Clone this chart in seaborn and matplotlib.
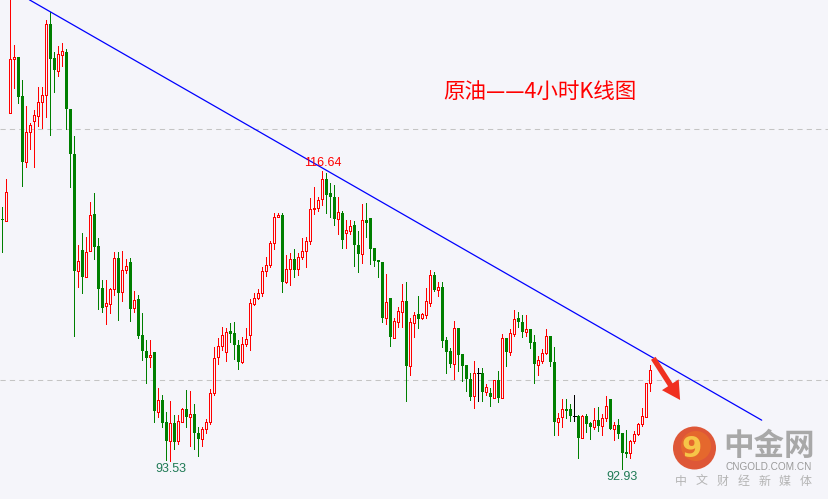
import numpy as np
import pandas as pd
import matplotlib
matplotlib.use("Agg")
import matplotlib.pyplot as plt
import seaborn as sns
from matplotlib.patches import Circle, FancyArrowPatch
from matplotlib.transforms import Affine2D

# ---------------- data (4-hour candles, crude oil) ----------------
opens = [
    112.83, 112.67, 121.27, 125.57, 125.73, 122.63, 117.37, 119.76, 120.64, 121.03,
    122.15, 122.71, 128.36, 125.65, 124.62, 125.90, 126.13, 121.59, 118.01, 108.69,
    110.36, 108.21, 110.28, 113.23, 110.68, 107.33, 105.90, 106.06, 107.25, 109.72,
    107.01, 108.77, 109.40, 105.74, 106.45, 103.59, 102.31, 101.83, 102.23, 97.45,
    98.41, 96.65, 95.14, 96.57, 95.14, 96.65, 97.69, 97.05, 97.29, 95.78,
    95.30, 96.10, 96.65, 98.96, 101.83, 102.71, 102.23, 103.90, 103.75, 102.79,
    101.43, 102.87, 103.59, 106.06, 106.53, 106.93, 108.69, 109.16, 110.92, 112.99,
    113.15, 107.81, 108.84, 109.64, 108.84, 109.80, 110.28, 111.08, 113.63, 113.71,
    114.42, 116.02, 114.90, 114.58, 112.83, 113.31, 111.71, 111.87, 112.35, 110.76,
    110.04, 112.75, 112.91, 110.52, 109.56, 109.40, 104.94, 106.53, 103.35, 104.62,
    105.42, 106.29, 101.12, 104.54, 105.26, 104.94, 105.18, 106.14, 108.37, 107.17,
    107.41, 103.19, 102.31, 101.27, 104.14, 102.07, 101.20, 100.08, 98.73, 100.56,
    100.56, 99.04, 98.96, 98.57, 100.00, 98.57, 103.35, 102.23, 103.67, 104.94,
    104.62, 103.82, 104.06, 103.03, 101.20, 101.51, 102.15, 103.51, 101.43, 96.65,
    97.05, 97.69, 97.69, 97.13, 97.13, 95.38, 97.13, 96.57, 96.25, 96.81,
    96.33, 96.97, 98.49, 96.10, 96.41, 95.78, 94.26, 94.18, 95.14, 95.70,
    96.49, 97.05, 99.76,
]
highs = [
    113.78, 116.02, 130.60, 126.69, 125.73, 123.90, 121.83, 120.48, 121.51, 123.34,
    123.34, 128.68, 129.32, 126.13, 126.61, 126.85, 126.37, 121.59, 119.44, 110.76,
    111.71, 111.39, 114.18, 114.90, 111.31, 107.97, 107.97, 107.33, 110.20, 110.20,
    110.28, 109.64, 109.72, 107.09, 106.77, 105.34, 103.19, 103.19, 102.23, 99.36,
    98.80, 97.45, 98.33, 97.21, 97.21, 97.77, 99.20, 99.12, 98.09, 96.25,
    96.25, 96.89, 99.28, 102.63, 103.35, 104.22, 104.14, 104.54, 104.62, 103.19,
    103.43, 104.14, 106.45, 106.93, 107.25, 109.00, 109.80, 111.08, 113.31, 113.31,
    113.31, 109.96, 110.12, 110.44, 110.12, 111.31, 111.39, 114.50, 115.38, 114.58,
    116.64, 116.49, 115.70, 115.54, 114.58, 113.47, 112.75, 112.75, 112.67, 111.87,
    114.02, 114.10, 112.91, 110.52, 109.56, 109.40, 108.45, 106.53, 104.94, 105.82,
    107.65, 107.81, 104.94, 105.42, 106.69, 105.34, 107.33, 108.77, 108.61, 107.81,
    107.81, 103.43, 102.55, 104.70, 104.14, 102.07, 101.20, 100.56, 101.51, 100.96,
    100.96, 99.68, 99.36, 100.00, 100.72, 103.67, 103.35, 104.06, 105.58, 105.42,
    105.18, 105.18, 104.06, 103.59, 101.91, 102.47, 104.06, 103.51, 102.63, 97.37,
    98.49, 98.49, 98.09, 98.80, 97.21, 97.21, 97.29, 96.65, 97.77, 97.85,
    97.29, 98.73, 98.49, 96.65, 96.89, 95.78, 96.02, 95.22, 95.94, 96.57,
    97.77, 99.76, 101.20,
]
lows = [
    110.20, 112.67, 121.27, 123.26, 122.07, 115.46, 116.98, 118.41, 116.98, 120.24,
    120.08, 120.96, 119.52, 122.95, 124.22, 125.02, 120.00, 115.38, 103.51, 107.41,
    106.93, 108.21, 110.28, 109.64, 105.66, 105.42, 104.46, 105.34, 106.77, 104.78,
    106.29, 108.53, 104.70, 105.42, 103.35, 101.59, 99.76, 101.04, 96.65, 97.05,
    96.25, 93.60, 93.53, 94.50, 94.90, 96.65, 96.25, 94.74, 94.50, 93.94,
    94.74, 95.78, 96.49, 98.80, 101.27, 102.39, 101.51, 103.03, 101.67, 100.88,
    101.35, 102.71, 102.39, 105.98, 106.45, 106.69, 108.29, 109.00, 110.44, 112.99,
    107.01, 107.73, 107.57, 108.21, 108.37, 109.64, 109.00, 110.84, 113.23, 113.47,
    113.94, 113.31, 112.99, 112.35, 111.63, 110.52, 110.52, 111.63, 109.08, 108.61,
    109.32, 111.39, 109.24, 109.08, 108.21, 104.62, 104.46, 102.71, 103.35, 104.22,
    104.22, 98.33, 100.40, 103.43, 104.14, 104.86, 104.94, 105.90, 107.09, 106.69,
    102.63, 100.56, 101.04, 100.08, 100.72, 99.92, 99.12, 98.41, 97.77, 98.33,
    98.33, 98.80, 97.93, 98.57, 98.25, 98.57, 101.12, 101.99, 103.51, 104.22,
    103.43, 103.51, 102.55, 99.76, 100.40, 101.35, 102.07, 101.12, 95.62, 95.62,
    96.25, 96.97, 96.73, 96.73, 93.79, 95.38, 95.86, 95.30, 96.10, 95.94,
    95.62, 96.73, 96.10, 95.22, 95.38, 92.93, 93.86, 93.79, 94.98, 95.62,
    96.33, 97.05, 99.12,
]
closes = [
    112.75, 114.98, 125.57, 125.73, 122.55, 117.37, 119.76, 120.32, 121.11, 122.15,
    122.71, 128.36, 125.57, 124.70, 125.98, 126.21, 121.59, 118.01, 108.69, 109.48,
    108.21, 110.20, 113.15, 110.60, 107.25, 105.74, 106.14, 107.25, 109.72, 106.93,
    108.77, 109.08, 105.66, 106.37, 103.51, 102.31, 101.75, 101.99, 97.53, 98.41,
    96.57, 95.14, 96.57, 95.06, 96.73, 97.69, 97.05, 97.29, 95.78, 95.30,
    96.10, 96.65, 98.96, 101.75, 102.71, 103.59, 103.82, 103.67, 102.79, 101.43,
    102.87, 103.27, 106.14, 106.53, 106.93, 108.69, 109.16, 110.92, 112.99, 113.15,
    107.81, 108.84, 109.64, 108.77, 109.80, 110.28, 111.08, 113.63, 113.71, 114.34,
    116.02, 114.74, 114.58, 112.83, 113.39, 111.16, 111.95, 112.27, 110.76, 110.04,
    112.75, 112.51, 110.44, 109.48, 109.40, 104.94, 106.21, 103.43, 104.70, 105.50,
    106.29, 101.12, 104.62, 105.18, 104.86, 105.26, 106.29, 108.37, 107.17, 107.41,
    103.11, 102.23, 101.27, 104.14, 101.99, 101.12, 100.08, 98.65, 100.56, 100.56,
    99.04, 99.44, 98.65, 100.00, 98.57, 103.35, 102.23, 103.75, 104.86, 104.62,
    103.82, 104.06, 102.95, 101.27, 101.59, 102.15, 103.51, 101.43, 96.65, 96.97,
    97.69, 97.53, 97.13, 97.13, 95.38, 97.13, 96.49, 96.25, 96.81, 96.33,
    96.97, 97.93, 96.10, 96.41, 95.70, 94.18, 94.10, 95.14, 95.70, 96.49,
    97.13, 99.76, 100.80,
]

grid_levels = [100, 120]
trend_x = [6.7, 189.8]        # candle index
trend_y = [130.3, 96.8]       # price
arrow_from = (162.7, 101.73)
arrow_to = (169.4, 98.41)

ann_text = ["116.64", "93.53", "92.93"]
ann_idx = [80, 42, 155]
ann_side = ["high", "low", "low"]
ann_color = ["#ff0000", "#1f7a55", "#1f7a55"]

title = "原油——4小时K线图"
brand = "中金网"
brand_url = "CNGOLD.COM.CN"
brand_sub = ["中", "文", "财", "经", "新", "媒", "体"]

# ---------------- styling ----------------
BG = "#f5f5fa"
RED = "#ff0000"
GREEN = "#007f00"
sns.set_theme(style="white", rc={"axes.facecolor": BG, "figure.facecolor": BG})
plt.rcParams["font.family"] = ["Noto Sans CJK SC", "DejaVu Sans"]

W, H = 829, 499
fig = plt.figure(figsize=(W / 100, H / 100), dpi=100, facecolor=BG)
ax = fig.add_axes([0, 0, 1, 1])
ax.set_facecolor(BG)
ax.set_xlim(-0.625, 206.625)
ax.set_ylim(90.52, 130.28)
ax.axis("off")

# pixel transform (origin top-left) for decorations
pix = Affine2D().scale(1 / W, -1 / H).translate(0, 1) + fig.transFigure

for lvl in grid_levels:
    ax.axhline(lvl, color="#c4c4c4", lw=0.75, ls=(0, (5, 4)), zorder=0)

df = pd.DataFrame({"o": opens, "h": highs, "l": lows, "c": closes})
df["x"] = np.arange(len(df))
up = df[df.c > df.o]
dn = df[df.c < df.o]
eq = df[df.c == df.o]

LW = 0.72  # exactly one pixel
# rising candles: hollow red, wicks outside body
ax.vlines(up.x, up.c, up.h, color=RED, lw=LW, antialiased=False, zorder=2)
ax.vlines(up.x, up.l, up.o, color=RED, lw=LW, antialiased=False, zorder=2)
ax.bar(up.x, up.c - up.o, bottom=up.o, width=0.5, facecolor=BG, edgecolor=RED,
       linewidth=LW, antialiased=False, zorder=3)
# falling candles: solid green
ax.vlines(dn.x, dn.l, dn.h, color=GREEN, lw=LW, antialiased=False, zorder=2)
ax.bar(dn.x, dn.o - dn.c, bottom=dn.c, width=0.75, color=GREEN, linewidth=0,
       antialiased=False, zorder=3)
# doji: black
ax.vlines(eq.x, eq.l, eq.h, color="black", lw=LW, antialiased=False, zorder=2)
ax.hlines(eq.o, eq.x - 0.375, eq.x + 0.375, color="black", lw=LW, antialiased=False, zorder=3)

# trendline
sns.lineplot(x=trend_x, y=trend_y, color="#0000ff", lw=0.9, ax=ax, zorder=4)

# annotations
for t, i, side, col in zip(ann_text, ann_idx, ann_side, ann_color):
    yv = highs[i] + 0.65 if side == "high" else lows[i] - 0.63
    ax.text(i, yv, t, color=col, fontsize=9, ha="center", va="center",
            family=["Liberation Sans"], zorder=5)

# red arrow
arr = FancyArrowPatch(arrow_from, arrow_to,
                      arrowstyle="simple,head_length=1.0,head_width=1.1,tail_width=0.3",
                      mutation_scale=13, color="#f03020", lw=0, shrinkA=0, shrinkB=0, zorder=5)
ax.add_patch(arr)

# title
ax.text(540 / W, 1 - 93 / H, title, transform=ax.transAxes, color=RED,
        fontsize=15.5, ha="center", va="center")

# watermark logo
fig.patches.append(Circle((694.5, 448), 21.5, transform=pix, facecolor="#dc4622",
                          edgecolor="none", alpha=0.9))
fig.patches.append(Circle((696, 446), 15, transform=pix, facecolor="#e66a2c",
                          edgecolor="none", alpha=0.9))
fig.text(692 / W, 1 - 449 / H, "9", color="#f6c548", fontsize=21, fontweight="bold",
         ha="center", va="center", family=["DejaVu Sans"])
fig.text(769 / W, 1 - 446 / H, brand, color="#a8a8a8", fontsize=22, fontweight="bold",
         ha="center", va="center")
fig.text(769 / W, 1 - 467 / H, brand_url, color="#9a9a9a", fontsize=7.2,
         ha="center", va="center", family=["Liberation Sans"])
for k, ch in enumerate(brand_sub):
    fig.text((681 + 20.8 * k) / W, 1 - 481 / H, ch, color="#b4b4b4", fontsize=8.6,
             ha="center", va="center")

fig.savefig("out.png", dpi=100, facecolor=BG)
